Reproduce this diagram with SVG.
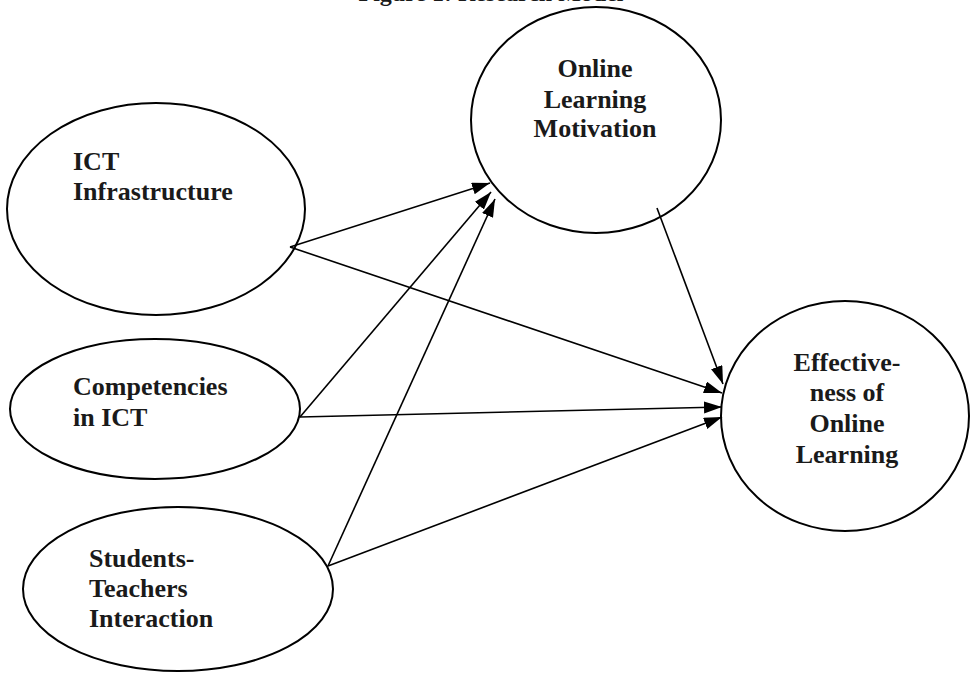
<svg xmlns="http://www.w3.org/2000/svg" width="971" height="673" viewBox="0 0 971 673">
<style>
.node ellipse{fill:#fff;stroke:#000;stroke-width:2}
text{font-family:"Liberation Serif","Times New Roman",serif;font-weight:bold;font-size:26px;fill:#1a1a1a}
.c{text-anchor:middle}
#edges line{stroke:#000;stroke-width:1.6;marker-end:url(#ah)}
</style>
<defs>
<marker id="ah" markerUnits="userSpaceOnUse" markerWidth="20" markerHeight="14" refX="18" refY="6" orient="auto">
<path d="M0,0 L18,6 L0,12 z" fill="#000"/>
</marker>
</defs>
<rect width="971" height="673" fill="#fff"/>
<text class="c" x="491" y="1" style="font-size:24px">Figure 1: Research Model</text>
<g id="n-ict" class="node">
<ellipse cx="156" cy="209" rx="149" ry="106"/>
<text x="73" y="170">ICT</text>
<text x="73" y="200">Infrastructure</text>
</g>
<g id="n-comp" class="node">
<ellipse cx="155" cy="409" rx="145" ry="70"/>
<text x="73" y="395">Competencies</text>
<text x="73" y="426">in ICT</text>
</g>
<g id="n-stud" class="node">
<ellipse cx="178" cy="589" rx="155" ry="82"/>
<text x="89" y="567">Students-</text>
<text x="89" y="597">Teachers</text>
<text x="89" y="627">Interaction</text>
</g>
<g id="n-mot" class="node">
<ellipse cx="596" cy="120" rx="125" ry="113"/>
<text class="c" x="595" y="77">Online</text>
<text class="c" x="595" y="108">Learning</text>
<text class="c" x="595" y="137">Motivation</text>
</g>
<g id="n-eff" class="node">
<ellipse cx="845" cy="416" rx="124" ry="115"/>
<text class="c" x="847" y="371">Effective-</text>
<text class="c" x="847" y="401">ness of</text>
<text class="c" x="847" y="432">Online</text>
<text class="c" x="847" y="463">Learning</text>
</g>
<g id="edges">
<line x1="290" y1="247" x2="490" y2="183"/>
<line x1="300" y1="417" x2="491" y2="192"/>
<line x1="328" y1="566" x2="495" y2="199"/>
<line x1="657" y1="208" x2="723" y2="384"/>
<line x1="290" y1="247" x2="722" y2="393"/>
<line x1="300" y1="417" x2="722" y2="407"/>
<line x1="328" y1="566" x2="722" y2="417"/>
</g>
</svg>
